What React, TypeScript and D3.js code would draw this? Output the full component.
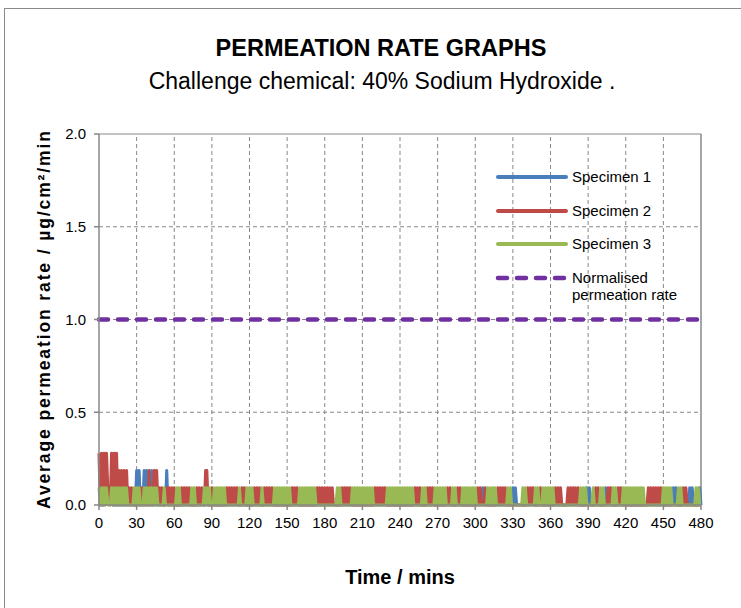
import React from 'react';
import * as d3 from 'd3';

// time axis (mins) and rate axis tick values
const xTickValues = [0, 30, 60, 90, 120, 150, 180, 210, 240, 270, 300, 330, 360, 390, 420, 450, 480];
const yTickValues = [0, 0.5, 1.0, 1.5, 2.0];

// readings are quantised in steps of ~0.093 µg/cm²/min; one char = one minute, 30 mins per string
const levelStep = 0.093;

const specimen1 = [
  '000001111110000000000000000000',
  '202000202000200000000000200000',
  '000000000000000000000000000000',
  '000000000000000000000000000000',
  '000000000000000000000000000000',
  '000000000000000000000000000000',
  '000000000000000000000000000000',
  '000000000000000000000000000000',
  '000000000000000000000000000000',
  '000000000000000000000000000000',
  '000000100000000000000000000000',
  '101000000000000000000000000000',
  '000000000000000000000000000001',
  '010000000000001000000000000000',
  '000000000000000000000000000000',
  '000000001010000000000101000001',
  '0',
];

const specimen2 = [
  '303030311030303020202020101000',
  '000010000020002120101000101010',
  '100000101010100000101010022000',
  '100000000000101010101000101000',
  '000010101000101010100000000000',
  '000010101000000000000000101010',
  '101010100000001010101000000000',
  '000000000010101010100000000000',
  '000000000000101010000010101000',
  '000000001010000010100000000000',
  '001010001000000000101010100000',
  '000000000000101010000010000000',
  '000010101000001010101010000000',
  '000000101000000010100000101000',
  '000000000000000000101010101010',
  '000000000000000010100000000000',
  '0',
];

const specimen3 = [
  '101010100010101010101010000010',
  '101000101010101010000010000000',
  '001010000000001010000000101010',
  '001010101010000000000010000010',
  '101000000010000000001010101010',
  '101000000010101010101010000000',
  '000000000010100000000010101010',
  '101010101000000000001010101010',
  '101010101010000000101000000010',
  '101010100000101000001010101010',
  '100000000010101010000000001010',
  '000000001010000000101000101010',
  '101000000000000000000000101010',
  '000010000010100000001010000010',
  '101010101010101000000000000000',
  '101010100000101000000000001010',
  '0',
];

const normalisedTimes = [0, 480];
const normalisedRate = [1.0, 1.0];

const seriesNames = ['Specimen 1', 'Specimen 2', 'Specimen 3'];
const seriesColors = ['#4a7ebb', '#be4b48', '#98b954'];
const normColor = '#7030a0';

const font = "'Liberation Sans', Arial, Helvetica, sans-serif";
const gridColor = '#878787';

function toPoints(chunks: string[]): [number, number][] {
  const pts: [number, number][] = [];
  chunks.forEach((s, c) => {
    for (let j = 0; j < s.length; j++) pts.push([c * 30 + j, Number(s[j]) * levelStep]);
  });
  return pts;
}

export default function App() {
  const x = d3.scaleLinear().domain([0, 480]).range([99, 701]);
  const y = d3.scaleLinear().domain([0, 2]).range([505, 134]);
  const line = d3.line<[number, number]>().x(d => x(d[0])).y(d => y(d[1]));

  const series = [specimen1, specimen2, specimen3].map(toPoints);
  const normPts: [number, number][] = normalisedTimes.map((t, i) => [t, normalisedRate[i]]);

  const legendY = [177, 211, 244, 278];

  return (
    <svg width={741} height={608} style={{ position: 'absolute', left: 0, top: 0 }} fontFamily={font}>
      <rect x={0} y={0} width={741} height={608} fill="#fff" />
      <rect x={4.5} y={8.5} width={800} height={700} fill="none" stroke="#8a8a8a" />

      <text x={381} y={56} textAnchor="middle" fontSize={23.5} fontWeight="bold">PERMEATION RATE GRAPHS</text>
      <text x={382} y={89} textAnchor="middle" fontSize={23}>Challenge chemical: 40% Sodium Hydroxide .</text>

      {/* gridlines */}
      {xTickValues.filter(t => t > 0 && t < 480).map(t => (
        <line key={'gx' + t} x1={x(t)} x2={x(t)} y1={y(0)} y2={y(2)} stroke={gridColor} strokeDasharray="4,3" />
      ))}
      {yTickValues.filter(v => v > 0 && v < 2).map(v => (
        <line key={'gy' + v} x1={x(0)} x2={x(480)} y1={y(v)} y2={y(v)} stroke={gridColor} strokeDasharray="4,3" />
      ))}
      <line x1={x(0)} x2={x(480)} y1={y(2)} y2={y(2)} stroke={gridColor} />
      <line x1={x(480)} x2={x(480)} y1={y(0)} y2={y(2)} stroke={gridColor} strokeWidth={1.5} />

      {/* data */}
      {series.map((pts, i) => (
        <path key={i} d={line(pts) || ''} fill="none" stroke={seriesColors[i]} strokeWidth={3} strokeLinejoin="round" />
      ))}
      <path d={line(normPts) || ''} fill="none" stroke={normColor} strokeWidth={4.5} strokeDasharray="9,10" strokeLinecap="round" />

      {/* axes */}
      <line x1={x(0)} x2={x(0)} y1={y(0)} y2={y(2)} stroke={gridColor} strokeWidth={1.5} />
      <line x1={x(0)} x2={x(480)} y1={y(0)} y2={y(0)} stroke={gridColor} strokeWidth={1.5} />
      {yTickValues.map(v => (
        <g key={'ty' + v}>
          <line x1={x(0) - 5} x2={x(0)} y1={y(v)} y2={y(v)} stroke={gridColor} strokeWidth={1.5} />
          <text x={x(0) - 13} y={y(v)} dy="0.35em" textAnchor="end" fontSize={15}>{v.toFixed(1)}</text>
        </g>
      ))}
      {xTickValues.map(t => (
        <g key={'tx' + t}>
          <line x1={x(t)} x2={x(t)} y1={y(0)} y2={y(0) + 5} stroke={gridColor} strokeWidth={1.5} />
          <text x={x(t)} y={y(0) + 23} textAnchor="middle" fontSize={15}>{t}</text>
        </g>
      ))}

      <text x={400} y={584} textAnchor="middle" fontSize={20} fontWeight="bold">Time / mins</text>
      <text transform="translate(50,320) rotate(-90)" textAnchor="middle" fontSize={17.5} fontWeight="bold"
        textLength={378} lengthAdjust="spacing">Average permeation rate / µg/cm²/min</text>

      {/* legend */}
      {seriesNames.map((name, i) => (
        <g key={name}>
          <line x1={498} x2={566} y1={legendY[i]} y2={legendY[i]} stroke={seriesColors[i]} strokeWidth={4} strokeLinecap="round" />
          <text x={572} y={legendY[i]} dy="0.35em" fontSize={15}>{name}</text>
        </g>
      ))}
      <line x1={498} x2={566} y1={legendY[3]} y2={legendY[3]} stroke={normColor} strokeWidth={4.5} strokeDasharray="9,10" strokeLinecap="round" />
      <text x={572} y={legendY[3]} dy="0.35em" fontSize={15}>Normalised</text>
      <text x={572} y={legendY[3] + 17} dy="0.35em" fontSize={15}>permeation rate</text>
    </svg>
  );
}
